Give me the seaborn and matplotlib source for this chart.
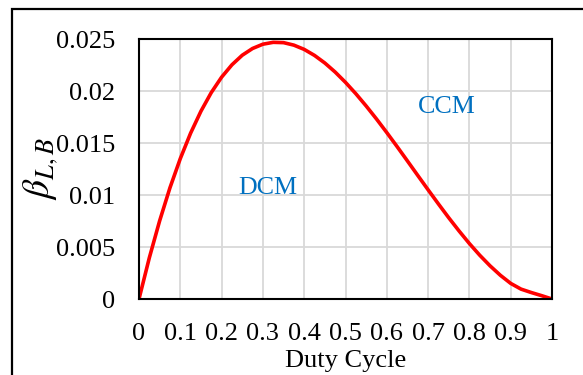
import numpy as np
import pandas as pd
import matplotlib
matplotlib.use("Agg")
import matplotlib.pyplot as plt
from matplotlib.patches import Rectangle
import seaborn as sns

# values
dutyCycle = [0, 0.025, 0.05, 0.075, 0.1, 0.125, 0.15, 0.175, 0.2, 0.225, 0.25,
             0.275, 0.3, 0.325, 0.35, 0.375, 0.4, 0.425, 0.45, 0.475, 0.5,
             0.525, 0.55, 0.575, 0.6, 0.625, 0.65, 0.675, 0.7, 0.725, 0.75,
             0.775, 0.8, 0.825, 0.85, 0.875, 0.9, 0.925, 0.95, 0.975, 1.0]
betaLB = [0, 0.00396, 0.00752, 0.0107, 0.0135, 0.01595, 0.01806, 0.01985, 0.02133, 0.02252, 0.02344,
          0.02409, 0.0245, 0.02468, 0.02465, 0.02441, 0.024, 0.02342, 0.02269, 0.02182, 0.02083,
          0.01974, 0.01856, 0.01731, 0.016, 0.01465, 0.01327, 0.01188, 0.0105, 0.00914, 0.00781,
          0.00654, 0.00533, 0.00421, 0.00319, 0.00228, 0.0015, 0.00095, 0.00062, 0.00032, 0.0]
xTicks = [0, 0.1, 0.2, 0.3, 0.4, 0.5, 0.6, 0.7, 0.8, 0.9, 1.0]
xTickLabels = ["0", "0.1", "0.2", "0.3", "0.4", "0.5", "0.6", "0.7", "0.8", "0.9", "1"]
yTicks = [0, 0.005, 0.01, 0.015, 0.02, 0.025]
yTickLabels = ["0", "0.005", "0.01", "0.015", "0.02", "0.025"]
regionNames = ["DCM", "CCM"]
regionX = [0.312, 0.745]
regionY = [0.0107, 0.0185]

df = pd.DataFrame({"Duty Cycle": dutyCycle, "beta": betaLB})

sns.set_theme(style="whitegrid")
plt.rcParams['font.family'] = ['Liberation Serif', 'DejaVu Serif']
plt.rcParams['mathtext.fontset'] = 'stix'

fig = plt.figure(figsize=(5.83, 3.75), dpi=100)
ax = fig.add_axes([139/583, 1-299/375, (552-139)/583, (299-39)/375])

sns.lineplot(data=df, x="Duty Cycle", y="beta", ax=ax, color="#FF0000", linewidth=2.6)

ax.set_xlim(0, 1)
ax.set_ylim(0, 0.025)
ax.set_xticks(xTicks)
ax.set_xticklabels(xTickLabels)
ax.set_yticks(yTicks)
ax.set_yticklabels(yTickLabels)
ax.tick_params(axis='x', length=0, pad=17, labelsize=19, colors='black')
ax.tick_params(axis='y', length=0, pad=17, labelsize=19, colors='black')
ax.grid(True, color="#D9D9D9", linewidth=1.3)
for s in ax.spines.values():
    s.set_color("black")
    s.set_linewidth(1.5)

ax.set_xlabel("Duty Cycle", fontsize=19, color='black', labelpad=4)
ax.set_ylabel(r"$\beta_{L,B}$", fontsize=27, color='black', labelpad=-3)

for name, x, y in zip(regionNames, regionX, regionY):
    ax.text(x, y, name, color="#0070C0", fontsize=18.7, ha='center', va='center')

# outer chart border
fig.patches.append(Rectangle((12/583, -0.2), 1.2, 1.2 - 9/375, transform=fig.transFigure,
                             fill=False, edgecolor='black', linewidth=1.6, clip_on=False))

fig.savefig("out.png", dpi=100)
